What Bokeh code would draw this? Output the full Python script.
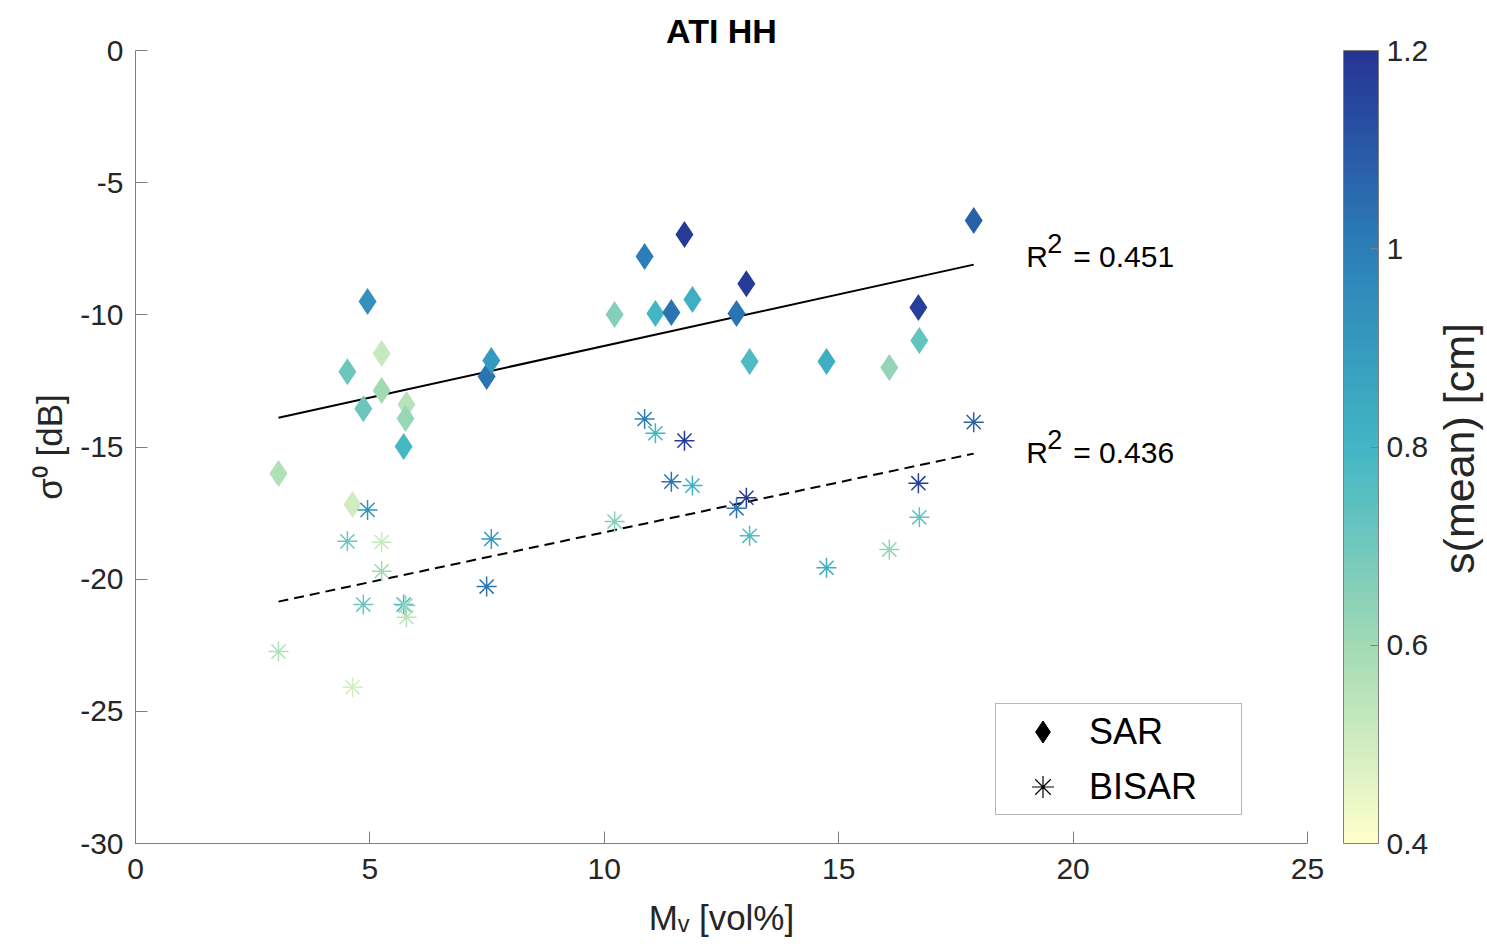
import numpy as np
from bokeh.plotting import figure
from bokeh.models import (ColumnDataSource, LinearColorMapper, ColorBar, Legend, LegendItem,
                          Label, FixedTicker, Range1d, CustomJSTickFormatter, LinearAxis)
from bokeh.embed import file_html
from bokeh.resources import INLINE

# ---------------- data ----------------
mv = [3.05, 4.52, 4.63, 4.86, 4.95, 5.25, 5.25, 5.72, 5.78, 5.76, 7.49, 7.59, 10.22,
      10.86, 11.09, 11.43, 11.71, 11.88, 12.82, 13.03, 13.10, 14.74, 16.08, 16.70, 16.72, 17.88]
s_mean = [0.57, 0.71, 0.50, 0.71, 0.93, 0.52, 0.60, 0.79, 0.55, 0.62, 1.03, 0.90, 0.66,
          1.00, 0.80, 1.03, 1.18, 0.82, 1.03, 1.18, 0.77, 0.83, 0.63, 1.17, 0.73, 1.08]
sigma_sar = [-16.0, -12.15, -17.18, -13.55, -9.5, -11.46, -12.86, -14.98, -13.39, -13.92,
             -12.33, -11.73, -9.99, -7.79, -9.95, -9.91, -6.96, -9.42, -9.95, -8.82,
             -11.77, -11.77, -11.99, -9.72, -10.97, -6.43]
sigma_bisar = [-22.74, -18.57, -24.09, -20.96, -17.38, -18.6, -19.7, -20.96, -21.44, -21.0,
               -20.28, -18.48, -17.82, -13.94, -14.48, -16.31, -14.76, -16.46, -17.32, -16.92,
               -18.36, -19.57, -18.88, -16.37, -17.66, -14.06]
fit_x = [3.05, 17.88]
fit_sar = [-13.89, -8.10]
fit_bisar = [-20.85, -15.25]
r2_sar = "0.451"
r2_bisar = "0.436"
x_ticks = [0, 5, 10, 15, 20, 25]
y_ticks = [-30, -25, -20, -15, -10, -5, 0]
cbar_ticks = [0.4, 0.6, 0.8, 1.0, 1.2]
legend_labels = ["SAR", "BISAR"]
title_text = "ATI HH"
x_label = "M\u1d65 [vol%]"
y_label = "\u03c3\u2070 [dB]"
cbar_label = "s(mean) [cm]"

# ---------------- colormap (YlGnBu) ----------------
anchors = ["#ffffcc", "#a1dab4", "#41b6c4", "#2c7fb8", "#253494"]
rgb = np.array([[int(h[i:i + 2], 16) for i in (1, 3, 5)] for h in anchors], dtype=float)
palette = []
for i in range(256):
    t = i / 255 * (len(anchors) - 1)
    k = min(int(t), len(anchors) - 2)
    f = t - k
    c = (1 - f) * rgb[k] + f * rgb[k + 1]
    palette.append("#%02x%02x%02x" % tuple(int(round(v)) for v in c))
mapper = LinearColorMapper(palette=palette, low=0.4, high=1.2)

FONT = "Liberation Sans"
TXT = "#262626"
AX = "#7f7f7f"
fmt = CustomJSTickFormatter(code="return tick.toString()")

p = figure(frame_width=1172, frame_height=793, x_range=Range1d(0, 25), y_range=Range1d(-30, 0),
           output_backend="svg", toolbar_location=None,
           min_border_left=135, min_border_right=180, min_border_top=50, min_border_bottom=105)
p.outline_line_color = None
p.grid.visible = False
p.background_fill_color = "white"
p.border_fill_color = "white"

p.title.text = title_text
p.title.align = "center"
p.title.text_font = FONT
p.title.text_font_size = "34px"
p.title.text_font_style = "bold"
p.title.text_color = "black"
p.title.standoff = 1

for ax, ticks in ((p.xaxis[0], x_ticks), (p.yaxis[0], y_ticks)):
    ax.ticker = FixedTicker(ticks=ticks)
    ax.formatter = fmt
    ax.major_tick_in = 12
    ax.major_tick_out = 0
    ax.minor_tick_line_color = None
    ax.axis_line_color = AX
    ax.major_tick_line_color = AX
    ax.major_label_text_font = FONT
    ax.major_label_text_font_size = "30px"
    ax.major_label_text_color = TXT
    ax.axis_label_text_font = FONT
    ax.axis_label_text_font_size = "35px"
    ax.axis_label_text_font_style = "normal"
    ax.axis_label_text_color = TXT
p.xaxis.major_label_standoff = 15
p.yaxis.major_label_standoff = 12
p.xaxis.axis_label = x_label
p.yaxis.axis_label = y_label
p.xaxis.axis_label_standoff = 16
p.yaxis.axis_label_standoff = 8

src = ColumnDataSource(dict(mv=mv, s=s_mean, sar=sigma_sar, bisar=sigma_bisar))
cmap = {"field": "s", "transform": mapper}

p.line(fit_x, fit_sar, line_color="black", line_width=2)
p.line(fit_x, fit_bisar, line_color="black", line_width=2, line_dash="10 6")
p.scatter("mv", "sar", source=src, marker="diamond", size=27,
          fill_color=cmap, line_color=None)
p.scatter("mv", "bisar", source=src, marker="asterisk", size=20,
          line_color=cmap, line_width=1.5)

# legend with black symbols (dummy renderers holding no visible point)
nan = float("nan")
leg_sar = p.scatter(x=[nan], y=[nan], marker="diamond", fill_color="black", line_color="black")
leg_bis = p.scatter(x=[nan], y=[nan], marker="asterisk", line_color="black", line_width=1.2)
legend = Legend(items=[LegendItem(label=legend_labels[0], renderers=[leg_sar]),
                       LegendItem(label=legend_labels[1], renderers=[leg_bis])],
                location=(860, 28), margin=0, padding=0, spacing=0,
                glyph_width=93, glyph_height=55, label_height=55, label_width=152,
                label_standoff=0, label_text_font=FONT, label_text_font_size="36px",
                label_text_color="black", border_line_color="#6f6f6f", border_line_width=1,
                background_fill_color="white", background_fill_alpha=1.0)
p.add_layout(legend)

# right side: spacer, colorbar, colorbar label
blank = CustomJSTickFormatter(code="return ''")
spacer = LinearAxis(ticker=FixedTicker(ticks=[-15]), formatter=blank,
                    major_tick_out=36, major_tick_in=0,
                    major_label_standoff=0, axis_line_color=None,
                    major_tick_line_color=None, minor_tick_line_color=None)
p.add_layout(spacer, "right")

cb = ColorBar(color_mapper=mapper, width=35, padding=0, margin=0,
              ticker=FixedTicker(ticks=cbar_ticks), formatter=fmt,
              major_label_text_font=FONT, major_label_text_font_size="30px",
              major_label_text_color=TXT, major_tick_in=8, major_tick_out=0,
              major_tick_line_color=AX, minor_tick_line_color=None,
              bar_line_color=AX, border_line_color=None, background_fill_color=None,
              label_standoff=8)
p.add_layout(cb, "right")

# colorbar label: a single rotated tick label placed so that it is centred on the bar
cb_title = CustomJSTickFormatter(args=dict(t=cbar_label), code="return t")
cb_axis = LinearAxis(ticker=FixedTicker(ticks=[-19.8]), formatter=cb_title,
                     major_tick_out=0, major_tick_in=0, major_label_standoff=28,
                     axis_line_color=None, major_tick_line_color=None,
                     minor_tick_line_color=None, major_label_orientation=np.pi / 2,
                     major_label_text_font=FONT, major_label_text_font_size="43px",
                     major_label_text_color=TXT)
p.add_layout(cb_axis, "right")


def lab(text, x, y, size, **kw):
    p.add_layout(Label(x=x, y=y, text=text, text_font=FONT, text_font_size=size,
                       text_color="black", **kw))


# R^2 annotations
for txt, yb, ys in ((r2_sar, -7.79, -7.30), (r2_bisar, -15.21, -14.71)):
    lab("R", 19.0, yb, "30px", text_baseline="alphabetic")
    lab("2", 19.0, ys, "27px", text_baseline="alphabetic", x_offset=21)
    lab("= " + txt, 19.0, yb, "30px", text_baseline="alphabetic", x_offset=47)

open("out.html", "w").write(file_html(p, INLINE))
